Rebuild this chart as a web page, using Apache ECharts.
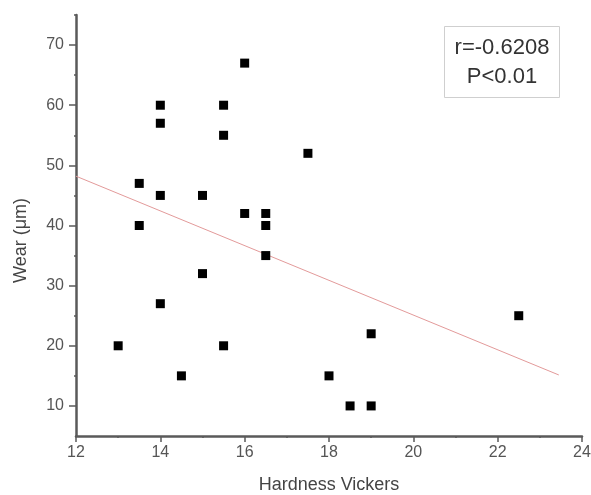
<!DOCTYPE html>
<html>
<head>
<meta charset="utf-8">
<script src="https://cdn.jsdelivr.net/npm/echarts@6/dist/echarts.min.js"></script>
<style>html,body{margin:0;padding:0;background:#fff;}#c{width:591px;height:495px;}</style>
</head>
<body>
<div id="c"></div>
<script>
// Data
const hardness = [13.5, 13.5, 14, 14, 14, 15, 15.5, 15.5, 16, 16, 16.5, 16.5, 16.5, 15, 14, 13, 15.5, 14.5, 22.5, 19, 18, 18.5, 19, 17.5];
const wear     = [47,   40,   60, 57, 45, 45, 60,   55,   67, 42, 42,   40,   35,   32, 27, 20, 20,   15,   25,   22, 15, 10,   10, 52];
const fitX = [12, 23.45];
const fitY = [48.2, 15.15];
const yLabelTicks = [10, 20, 30, 40, 50, 60, 70];
const yMinorTicks = [15, 25, 35, 45, 55, 65, 75];
const statLines = ['r=-0.6208', 'P<0.01'];

const points = hardness.map((h, i) => [h, wear[i]]);
const fitLine = fitX.map((x, i) => [x, fitY[i]]);

const chart = echarts.init(document.getElementById('c'), null, {renderer: 'canvas'});
const axisColor = '#5a5a5a';
const font = 'Liberation Sans, Arial, sans-serif';
chart.setOption({
  animation: false,
  backgroundColor: '#fff',
  grid: {left: 76, right: 9, top: 15, bottom: 59, containLabel: false, outerBoundsMode: 'none'},
  xAxis: {
    type: 'value', min: 12, max: 24, interval: 2,
    name: 'Hardness Vickers', nameLocation: 'middle', nameGap: 40,
    nameTextStyle: {fontFamily: font, fontSize: 18, color: '#444'},
    axisLine: {show: true, onZero: false, lineStyle: {color: axisColor, width: 2.5}},
    axisTick: {show: true, length: 6, lineStyle: {color: axisColor, width: 1.5}},
    minorTick: {show: true, splitNumber: 2, length: 2, lineStyle: {color: axisColor, width: 1.5}},
    axisLabel: {fontFamily: font, fontSize: 16, color: '#555', margin: 9},
    splitLine: {show: false}, minorSplitLine: {show: false}
  },
  yAxis: [{
    type: 'value', min: 5, max: 75,
    name: 'Wear (\u03bcm)', nameLocation: 'middle', nameGap: 46, nameRotate: 90,
    nameTextStyle: {fontFamily: font, fontSize: 18, color: '#444', padding: [0, 30, 0, 0]},
    axisLine: {show: true, onZero: false, lineStyle: {color: axisColor, width: 2.5}},
    axisTick: {show: true, length: 7, customValues: yLabelTicks, lineStyle: {color: axisColor, width: 1.5}},
    axisLabel: {fontFamily: font, fontSize: 16, color: '#555', margin: 12, customValues: yLabelTicks},
    splitLine: {show: false}
  }, {
    type: 'value', min: 5, max: 75, position: 'left',
    axisLine: {show: false},
    axisTick: {show: true, length: 2, customValues: yMinorTicks, lineStyle: {color: axisColor, width: 1.5}},
    axisLabel: {show: false},
    splitLine: {show: false}
  }],
  series: [{
    type: 'line', data: fitLine, symbol: 'none', silent: true,
    lineStyle: {color: '#e39a9a', width: 1}, z: 1
  }, {
    type: 'scatter', data: points, symbol: 'rect', symbolSize: 9,
    itemStyle: {color: '#000', opacity: 1}, z: 3
  }],
  graphic: [{
    type: 'group', left: 444, top: 26,
    children: [
      {type: 'rect', shape: {x: 0, y: 0, width: 115, height: 71}, style: {fill: '#fff', stroke: '#cfcfcf', lineWidth: 1}},
      {type: 'text', x: 57.5, y: 21, style: {text: statLines[0], fontFamily: font, fontSize: 22, fill: '#333', align: 'center', verticalAlign: 'middle'}},
      {type: 'text', x: 57.5, y: 50, style: {text: statLines[1], fontFamily: font, fontSize: 22, fill: '#333', align: 'center', verticalAlign: 'middle'}}
    ]
  }]
});
</script>
</body>
</html>
